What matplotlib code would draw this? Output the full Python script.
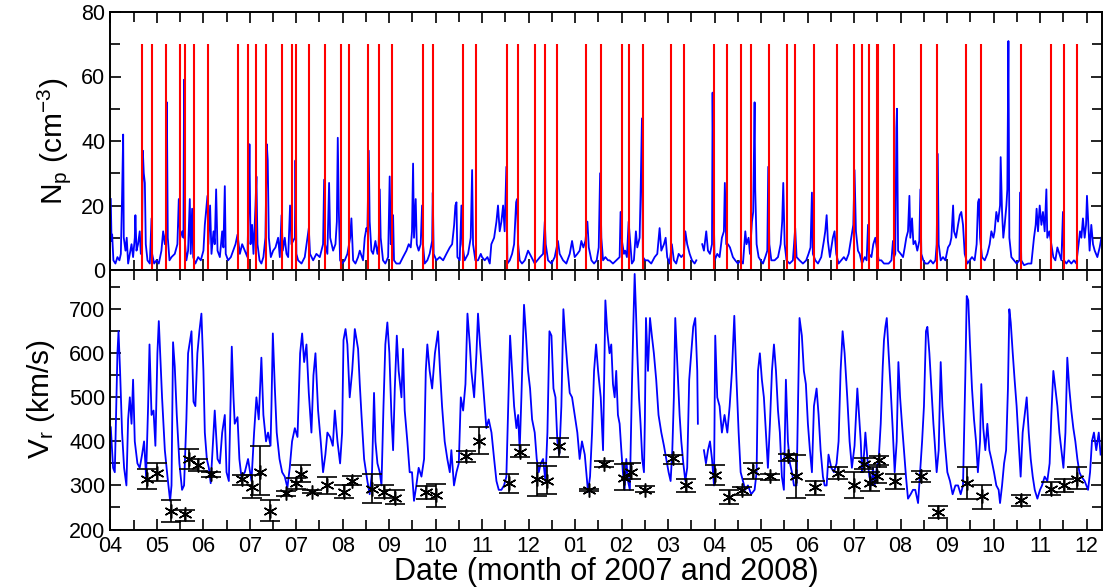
import numpy as np
import matplotlib
matplotlib.use("Agg")
import matplotlib.pyplot as plt
from matplotlib.ticker import MultipleLocator

plt.rcParams['font.family'] = ['Liberation Sans', 'DejaVu Sans']
plt.rcParams['mathtext.default'] = 'regular'

# x axis unit: days since the first (04) tick, one labelled tick every 30
month_labels = ['04', '05', '06', '07', '07', '08', '09', '10', '11', '12',
                '01', '02', '03', '04', '05', '06', '07', '08', '09', '10', '11', '12']

# proton density (cm^-3)
np_day = [0.3, 0.8, 1.2, 2.0, 3.3, 4.6, 5.9, 6.8, 7.6, 8.3, 8.7, 9.8, 10.6, 11.5, 12.6, 13.7, 14.7, 15.8, 16.2, 16.9,
          17.9, 19.0, 19.7, 20.5, 21.0, 21.6, 22.3, 22.9, 24.0, 25.5, 26.6, 27.0, 28.3, 29.8, 31.3, 33.0, 34.1, 35.2, 36.0, 36.5,
          37.1, 38.2, 39.5, 41.6, 43.3, 44.2, 45.1, 46.4, 47.2, 47.6, 48.1, 49.1, 50.2, 51.3, 51.9, 52.8, 53.5, 54.9, 56.7, 58.4,
          60.1, 61.0, 62.1, 62.7, 63.3, 64.4, 65.3, 66.6, 67.4, 68.3, 69.2, 70.7, 72.2, 73.0, 73.9, 74.5, 76.0, 77.8, 79.3, 80.8,
          82.1, 83.6, 85.1, 86.8, 88.5, 89.4, 89.8, 90.5, 91.5, 92.4, 93.7, 94.3, 95.0, 96.3, 97.5, 98.8, 100.1, 101.0, 101.6, 102.3,
          103.6, 105.1, 106.6, 108.3, 109.4, 110.5, 111.3, 112.6, 113.7, 114.8, 116.0, 116.9, 119.1, 119.5, 120.1, 121.2, 123.4, 125.5, 128.1, 128.9,
          130.9, 133.0, 135.2, 137.3, 138.0, 138.6, 140.1, 141.2, 141.9, 143.8, 145.3, 146.2, 146.8, 147.5, 148.3, 149.6, 151.3, 153.0, 154.8, 155.6,
          156.7, 158.2, 159.9, 161.0, 163.1, 164.2, 165.3, 165.9, 166.8, 167.4, 168.5, 169.6, 171.1, 172.4, 173.2, 173.9, 174.5, 176.0, 177.5, 179.3,
          180.3, 181.0, 181.8, 182.5, 183.1, 184.6, 186.8, 188.9, 191.1, 192.6, 193.9, 194.7, 195.4, 196.0, 197.1, 197.8, 199.0, 200.3, 201.2, 201.8,
          202.9, 204.6, 206.1, 207.7, 208.1, 208.7, 210.4, 212.6, 214.8, 216.9, 219.1, 220.6, 221.9, 222.7, 223.4, 224.0, 225.5, 226.6, 227.2, 228.7,
          230.9, 232.6, 233.5, 234.1, 235.6, 237.3, 239.1, 239.9, 241.6, 243.4, 244.9, 245.9, 247.7, 249.2, 250.2, 251.3, 252.4, 253.5, 254.5, 255.6,
          256.3, 257.8, 259.3, 260.6, 261.9, 262.5, 263.2, 264.2, 265.7, 267.5, 269.6, 271.8, 273.9, 275.6, 277.3, 279.3, 280.4, 281.0, 282.5, 284.7,
          286.8, 288.9, 290.0, 292.2, 294.3, 296.5, 298.0, 299.7, 301.4, 302.9, 304.0, 305.3, 306.6, 307.9, 308.8, 310.5, 312.2, 313.9, 315.2, 316.1,
          316.9, 318.0, 319.5, 321.2, 322.2, 324.4, 326.5, 328.7, 329.3, 330.2, 331.5, 332.3, 333.4, 334.5, 335.3, 336.6, 337.9, 339.2, 340.1, 341.6,
          342.2, 343.1, 343.7, 345.2, 347.0, 349.1, 351.3, 353.0, 354.5, 355.6, 357.3, 358.4, 359.4, 360.9, 362.4, 363.7, 365.2, 366.8, 368.5, 370.2,
          371.1, 372.3, 373.9, 375.4, 377.1, 378.2, 380.5, 382.0, 383.1, 384.6, 385.7, 387.0, 388.3, 388.7, 389.3, 390.0, 391.7, 393.2, 394.7, 396.0,
          396.6, 397.5, 398.6, 399.9, 401.8, 403.3, 405.0, 406.8, 408.3, 409.8, 410.6, 411.9, 412.8, 414.1, 414.9, 415.8, 416.2, 417.1, 418.4, 419.7,
          421.2, 422.7, 424.0, 424.6, 425.3, 426.6, 428.7, 430.9, 432.6, 433.6, 434.3, 435.2, 436.4, 438.4, 440.5, 442.0, 442.9, 444.8, 447.0, 449.1,
          450.6, 451.9, 452.8, 453.4, 455.0, 456.7, 458.8, 460.5, 461.4, 462.3, 463.1, 464.4, 466.3, 467.4, 468.5, 470.0, 471.7, 473.4, 474.9, 476.5,
          478.2, 479.5, 480.3, 481.2, 482.5, 483.6, 484.6, 485.1, 486.9, 488.1, 489.0, 489.6, 491.2, 492.4, 493.7, 494.6, 495.9, 497.6, 499.3, 500.8,
          502.3, 504.1, 505.1, 505.8, 506.6, 507.3, 507.7, 508.4, 510.1, 511.6, 512.7, 513.7, 514.8, 515.7, 516.3, 517.4, 518.3, 519.5, 520.8, 522.1,
          522.8, 523.4, 524.7, 526.0, 527.7, 529.4, 531.0, 532.5, 533.3, 534.0, 534.6, 535.9, 537.4, 538.9, 540.6, 541.9, 542.8, 543.9, 544.5, 545.8,
          547.1, 548.2, 549.2, 550.3, 551.4, 553.1, 554.6, 556.1, 557.8, 559.1, 560.0, 560.6, 561.3, 562.6, 564.3, 566.0, 567.5, 568.6, 569.9, 570.7,
          571.8, 572.9, 574.2, 574.6, 575.5, 576.3, 577.2, 578.3, 578.9, 579.6, 580.2, 581.5, 583.2, 584.9, 586.7, 587.1, 587.9, 589.7, 592.3, 594.4,
          596.1, 597.2, 597.8, 598.7, 599.8, 600.9, 601.9, 603.0, 604.1, 604.7, 606.0, 607.3, 608.6, 609.9, 611.2, 612.5, 613.8, 614.8, 615.5, 617.0,
          618.5, 620.2, 621.9, 623.4, 624.9, 625.8, 626.7, 627.7, 628.8, 629.7, 630.3, 631.0, 632.0, 633.1, 634.2, 635.3, 637.0, 638.5, 639.6]
np_val = [22, 9, 11, 3, 2, 4, 3, 5, 23, 42, 10, 6, 10, 2, 5, 8, 4, 10, 17, 6,
          8, 12, 5, 10, 37, 30, 27, 8, 3, 2, 16, 5, 2, 3, 2, 6, 12, 8, 12, 52,
          10, 3, 4, 5, 8, 22, 10, 12, 10, 59, 9, 3, 6, 22, 5, 19, 4, 2, 4, 3,
          6, 14, 20, 23, 8, 20, 5, 12, 8, 25, 6, 4, 12, 7, 26, 5, 3, 4, 6, 8,
          11, 5, 8, 6, 4, 24, 39, 8, 14, 5, 20, 29, 8, 3, 2, 4, 10, 39, 34, 10,
          4, 6, 7, 10, 4, 17, 6, 10, 5, 4, 20, 8, 10, 34, 5, 3, 2, 4, 13, 5,
          3, 5, 4, 8, 28, 8, 5, 27, 10, 6, 8, 15, 41, 18, 3, 2, 3, 5, 10, 16,
          3, 2, 4, 6, 3, 10, 13, 12, 37, 15, 6, 5, 9, 5, 8, 25, 10, 3, 2, 4,
          29, 8, 12, 17, 3, 2, 2, 4, 6, 8, 7, 12, 33, 10, 22, 8, 6, 8, 20, 8,
          2, 3, 5, 9, 24, 5, 3, 4, 3, 5, 7, 8, 14, 20, 21, 4, 3, 20, 8, 3,
          5, 10, 31, 8, 3, 3, 5, 4, 3, 4, 2, 8, 10, 15, 20, 12, 15, 20, 12, 32,
          2, 3, 5, 8, 21, 22, 8, 3, 2, 3, 6, 4, 2, 3, 4, 5, 15, 8, 3, 2,
          4, 9, 5, 3, 2, 5, 9, 4, 5, 6, 9, 7, 9, 15, 7, 3, 2, 3, 7, 30,
          10, 3, 4, 3, 3, 2, 3, 4, 18, 9, 5, 6, 4, 15, 10, 2, 3, 12, 7, 10,
          23, 47, 4, 3, 3, 2, 4, 5, 13, 6, 8, 10, 4, 2, 8, 3, 2, 5, 4, 5,
          12, 8, 5, 3, 2, 3, np.nan, 8, 6, 12, 6, 5, 8, 55, 20, 3, 5, 4, 10, 12,
          27, 8, 8, 7, 4, 3, 2, 3, 2, 12, 8, 10, 5, 15, 18, 52, 25, 8, 4, 3,
          2, 4, 6, 32, 8, 3, 3, 4, 8, 15, 27, 8, 3, 2, 3, 13, 4, 3, 2, 3,
          5, 7, 24, 5, 3, 2, 4, 9, 12, 17, 9, 4, 10, 12, 5, 2, 3, 4, 3, 5,
          10, 14, 31, 12, 6, 5, 3, 2, 4, 3, 14, 5, 4, 8, 10, 7, 3, 3, 2, 2,
          2, 3, 9, 4, 5, 44, 50, 6, 5, 4, 7, 10, 12, 23, 10, 16, 8, 9, 6, 9,
          25, 5, 3, 2, 2, 3, 2, 3, 8, 36, 8, 3, 4, 3, 7, 8, 10, 20, 12, 10,
          14, 17, 18, 14, 5, 2, 3, 4, 3, 8, 21, 22, 10, 4, 3, 5, 8, 12, 10, 12,
          18, 15, 20, 35, 18, 10, 14, 20, 25, 71, 10, 4, 3, 2, 3, 24, 3, 1.5, 2, 2,
          10, 14, 19, 12, 20, 14, 18, 12, 25, 10, 12, 8, 4, 3, 7, 5, 3, 18, 3, 2,
          3, 2, 3, 2, 8, 12, 10, 16, 10, 14, 23, 16, 6, 14, 8, 6, 4, 7, 10]

# radial solar wind speed (km/s)
vr_day = [0.3, 1.8, 2.9, 4.6, 5.3, 6.3, 7.6, 8.9, 10.4, 11.5, 12.6, 13.7, 14.7, 15.8, 17.5, 19.0, 20.5, 21.8, 23.1, 24.4,
          25.3, 26.6, 27.9, 29.1, 30.4, 31.3, 32.2, 33.4, 35.2, 36.9, 38.6, 39.5, 40.5, 41.6, 42.9, 44.6, 46.3, 47.6, 49.1, 50.2,
          51.5, 52.4, 53.7, 54.9, 56.2, 57.5, 58.8, 60.1, 61.0, 62.3, 63.6, 64.8, 67.4, 69.2, 70.7, 72.2, 73.9, 75.0, 76.5, 77.8,
          78.4, 79.5, 80.3, 82.1, 83.3, 84.6, 86.8, 88.9, 91.1, 92.8, 94.3, 95.8, 97.5, 98.8, 100.5, 101.8, 103.4, 104.0, 104.9, 106.2,
          107.4, 109.2, 110.9, 112.6, 114.3, 115.8, 117.3, 119.1, 120.8, 122.5, 123.8, 125.1, 126.6, 128.1, 129.8, 131.1, 132.4, 134.1, 135.8, 137.3,
          138.8, 140.1, 141.9, 143.6, 144.9, 146.6, 148.3, 149.6, 150.5, 151.8, 153.0, 154.5, 156.1, 157.8, 159.9, 161.0, 162.1, 163.8, 165.9, 167.4,
          168.9, 170.2, 171.1, 172.4, 173.9, 175.0, 176.3, 177.5, 178.8, 180.1, 181.4, 182.5, 183.6, 184.9, 186.1, 187.9, 188.9, 190.0, 191.7, 193.2,
          194.7, 196.0, 197.5, 199.0, 200.8, 202.5, 203.6, 204.6, 206.1, 207.7, 209.5, 211.5, 212.8, 214.1, 215.8, 217.5, 219.1, 220.1, 221.8, 223.4,
          224.9, 226.2, 227.7, 229.2, 230.5, 232.0, 233.0, 234.8, 236.3, 237.3, 238.6, 239.9, 241.2, 242.7, 244.2, 246.0, 247.7, 249.2, 250.7, 252.4,
          254.1, 255.6, 257.1, 258.0, 259.3, 260.6, 262.1, 263.2, 264.2, 265.3, 267.0, 268.3, 269.6, 270.9, 272.2, 273.9, 275.2, 276.5, 277.8, 279.3,
          280.8, 282.1, 283.4, 284.7, 286.0, 287.3, 288.5, 289.8, 291.1, 292.4, 293.7, 295.0, 296.5, 298.0, 299.7, 301.4, 302.9, 304.4, 306.2, 308.3,
          309.6, 310.9, 312.2, 313.5, 314.8, 316.5, 318.0, 319.5, 320.7, 322.2, 323.3, 324.4, 325.5, 326.5, 327.6, 328.7, 329.8, 330.8, 331.9, 333.0,
          334.1, 335.3, 336.6, 337.5, 338.4, 339.2, 340.1, 341.2, 342.2, 343.3, 344.4, 345.0, 345.7, 347.0, 348.3, 349.5, 350.8, 352.3, 353.8, 355.6,
          357.3, 358.8, 360.3, 361.6, 362.7, 363.7, 364.6, 365.9, 367.4, 368.5, 369.8, 371.1, 372.3, 373.6, 374.9, 376.2, 377.5, 378.8, 379.2, 380.5,
          383.1, 384.4, 385.7, 387.0, 388.3, 389.6, 390.4, 391.7, 393.2, 394.7, 396.4, 398.2, 399.7, 401.2, 402.7, 404.0, 405.5, 406.8, 408.3, 409.8,
          411.5, 413.6, 415.8, 417.1, 418.0, 419.2, 420.5, 421.8, 423.1, 424.4, 425.7, 427.0, 428.3, 429.6, 430.9, 432.1, 433.4, 434.7, 436.0, 437.3,
          438.6, 439.9, 441.2, 442.9, 443.8, 444.8, 446.3, 447.6, 448.9, 450.2, 451.5, 452.8, 454.1, 455.8, 457.1, 458.4, 459.9, 461.0, 462.3, 463.5,
          465.3, 467.0, 468.7, 470.0, 471.3, 472.6, 473.9, 475.6, 477.1, 478.6, 480.3, 482.1, 483.0, 484.3, 485.1, 486.4, 487.3, 488.6, 489.9, 491.2,
          492.2, 493.3, 494.6, 495.9, 497.2, 498.5, 499.3, 500.2, 501.1, 502.3, 503.6, 504.9, 506.2, 507.5, 508.6, 509.7, 510.9, 512.2, 513.5, 514.8,
          516.5, 518.0, 519.5, 521.3, 522.6, 523.9, 525.1, 526.4, 527.3, 528.6, 529.9, 531.2, 532.0, 533.3, 534.6, 535.9, 537.0, 538.5, 540.2, 541.9,
          543.6, 545.4, 547.1, 548.8, 550.3, 551.8, 552.7, 553.7, 554.8, 556.1, 557.4, 558.7, 559.9, 561.3, 562.1, 563.4, 564.7, 566.0, 567.3, 568.6,
          570.3, 571.8, 573.3, 574.2, 575.5, 576.8, 578.1, 579.3, 580.2, 581.1, 582.4, 583.6, 584.9, 586.2, 587.5, 588.8, 590.1, 591.4, 592.7, 594.0,
          595.3, 596.6, 598.3, 600.0, 601.3, 603.0, 604.7, 606.2, 607.3, 608.6, 609.9, 611.2, 612.5, 613.8, 615.1, 616.4, 617.6, 618.9, 620.2, 621.5,
          622.8, 624.1, 625.4, 626.7, 628.8, 631.0, 632.3, 633.5, 634.8, 636.3, 637.9, 639.1]
vr_val = [432, 340, 330, 600, 650, 560, 420, 340, 300, 450, 500, 440, 540, 400, 350, 340, 370, 400, 320, 480,
          620, 460, 470, 390, 600, 673, 600, 500, 380, 320, 265, 300, 625, 570, 460, 350, 290, 300, 450, 600,
          630, 650, 490, 480, 600, 650, 690, 560, 420, 360, 340, 305, 470, 360, 350, 420, 460, 330, 310, 520,
          615, 500, 440, 455, 360, 320, 330, 360, 310, 420, 500, 450, 590, 460, 400, 420, 390, 480, 645, 520,
          420, 360, 330, 320, 295, 340, 400, 430, 410, 600, 645, 580, 620, 510, 420, 550, 600, 470, 400, 330,
          370, 420, 410, 390, 470, 400, 350, 420, 630, 655, 620, 500, 560, 655, 610, 530, 460, 360, 310, 280,
          330, 510, 400, 350, 330, 300, 480, 620, 670, 600, 460, 380, 520, 640, 560, 500, 610, 470, 400, 330,
          330, 265, 300, 340, 320, 360, 560, 620, 560, 520, 600, 650, 560, 480, 400, 360, 330, 380, 300, 330,
          350, 500, 470, 530, 690, 620, 560, 500, 600, 690, 620, 560, 500, 430, 450, 420, 360, 310, 290, 290,
          300, 320, 520, 640, 560, 480, 430, 460, 380, 500, 710, 640, 560, 520, 450, 420, 360, 330, 350, 360,
          310, 420, 650, 640, 520, 500, 400, 370, 480, 700, 630, 570, 510, 500, 460, 420, 360, 400, 370, 285,
          320, 420, 560, 620, 560, 500, 380, 720, 650, 600, 620, 530, 500, 560, 460, 440, 380, 330, 290, 360,
          310, 290, 520, 660, 780, 700, 600, 500, 440, 360, 330, 450, 680, 560, 680, 640, 600, 540, 460, 420,
          390, 360, 330, 310, 380, 500, 680, 580, 460, 400, 350, 310, 340, 540, 600, 660, 680, 560, 440, np.nan,
          380, 350, 380, 400, 360, 300, 640, 500, 480, 420, 460, 420, 480, 560, 685, 550, 420, 330, 310, 290,
          300, 280, 290, 330, 560, 600, 540, 500, 420, 340, 440, 560, 620, 560, 470, 420, 320, 290, 540, 400,
          350, 330, 300, 300, 480, 680, 640, 560, 530, 440, 380, 330, 480, 520, 460, 380, 320, 300, 300, 370,
          340, 330, 350, 400, 560, 650, 600, 500, 400, 340, 390, 520, 470, 400, 330, 370, 420, 360, 320, 300,
          340, 300, 340, 360, 440, 570, 630, 660, 680, 600, 520, 430, 330, 400, 580, 500, 440, 380, 320, 270,
          280, 290, 290, 260, 330, 400, 480, 650, 660, 600, 520, 440, 400, 330, 380, 580, 480, 400, 330, 310,
          280, 300, 300, 280, 300, 550, 730, 720, 620, 520, 450, 400, 330, 400, 530, 430, 380, 440, 380, 360,
          330, 300, 290, 260, 300, 350, 380, 520, 700, 670, 600, 540, 480, 400, 320, 420, 460, 500, 420, 360,
          320, 290, 270, 290, 300, 320, 310, 350, 460, 560, 520, 480, 420, 380, 340, 420, 590, 520, 470, 430,
          400, 360, 330, 320, 310, 290, 330, 400, 420, 380, 420, 370]

# red vertical event lines (days)
red_day = [20.5, 27.0, 36.0, 45.0, 48.3, 54.1, 63.1, 82.5, 88.9, 94.1, 100.5, 110.8, 117.3, 119.9, 128.3,
           138.6, 148.9, 154.1, 166.3, 173.4, 181.8, 201.8, 208.3, 227.6, 236.0, 256.0, 263.1, 274.1, 280.5, 288.3,
           307.0, 316.7, 330.2, 334.7, 343.8, 361.8, 370.2, 389.6, 398.0, 407.0, 413.4, 425.1, 436.7, 441.8, 454.1,
           468.9, 479.9, 485.1, 489.6, 494.7, 495.4, 505.7, 523.1, 533.4, 552.2, 561.8, 587.6, 607.0, 615.4, 623.8]

# asterisk points with asymmetric error bars (km/s)
mk_day = [23.7, 30.2, 39.0, 48.1, 50.6, 56.6, 65.3, 84.7, 91.7, 96.5, 102.9, 113.7, 119.7, 122.9, 130.2,
          140.1, 150.5, 156.0, 168.9, 176.5, 184.0, 203.6, 210.2, 229.6, 238.2, 257.3, 264.7, 275.4, 281.8, 289.8,
          309.2, 318.6, 331.3, 335.8, 345.1, 363.1, 371.3, 390.5, 399.2, 407.4, 414.5, 425.9, 437.3, 442.7, 454.5,
          469.6, 479.9, 486.2, 490.0, 494.7, 495.8, 506.6, 523.4, 534.1, 553.1, 562.3, 587.9, 606.8, 615.2, 623.8]
mk_v = [315, 329, 243, 235, 359, 346, 327, 314, 296, 331, 243, 282, 306, 327, 286,
        300, 286, 311, 292, 286, 272, 284, 279, 366, 402, 305, 377, 314, 311, 389,
        289, 348, 317, 331, 290, 362, 300, 323, 274, 289, 332, 321, 366, 321, 296,
        329, 302, 349, 306, 321, 358, 309, 321, 239, 305, 275, 266, 293, 301, 315]
mk_lo = [293, 311, 218, 220, 338, 332, 319, 302, 272, 278, 220, 276, 292, 307, 282,
         280, 271, 300, 261, 272, 257, 270, 252, 354, 372, 282, 364, 275, 280, 364,
         287, 342, 289, 314, 284, 349, 286, 300, 259, 278, 314, 313, 356, 272, 278,
         315, 272, 337, 288, 305, 346, 292, 307, 226, 270, 247, 253, 278, 286, 292]
mk_hi = [338, 350, 268, 245, 383, 359, 331, 324, 323, 389, 266, 288, 317, 346, 289,
         319, 300, 321, 327, 301, 290, 298, 303, 379, 432, 325, 391, 352, 344, 408,
         291, 356, 349, 350, 298, 370, 314, 346, 290, 297, 350, 327, 371, 370, 311,
         342, 331, 362, 331, 342, 366, 327, 332, 253, 341, 302, 279, 307, 315, 341]

fig = plt.figure(figsize=(11.14, 5.88), dpi=100)
ax1 = fig.add_axes([110.3 / 1114, (588 - 270) / 588, 991.7 / 1114, 258 / 588])
ax2 = fig.add_axes([110.3 / 1114, (588 - 529.5) / 588, 991.7 / 1114, 259.5 / 588])

ax1.plot(np_day, np_val, color='#0000ff', lw=1.3, zorder=2)
ax1.vlines(red_day, 0, 70, colors='#ff0000', lw=1.5, zorder=3)

ax2.plot(vr_day, vr_val, color='#0000ff', lw=1.3, zorder=2)
mk_v = np.array(mk_v)
yerr = [mk_v - np.array(mk_lo), np.array(mk_hi) - mk_v]
ax2.errorbar(mk_day, mk_v, yerr=yerr, fmt='none', ecolor='k', elinewidth=1.2,
             capsize=7.5, capthick=1.2, zorder=4)
ax2.plot(mk_day, mk_v, ls='none', marker=(6, 2, 0), ms=10, mec='k', mew=1.1, zorder=5)

ax1.set_ylim(0, 80)
ax2.set_ylim(200, 789)
for ax in (ax1, ax2):
    ax.set_xlim(0, 640)
    ax.xaxis.set_major_locator(MultipleLocator(30))
    ax.xaxis.set_minor_locator(MultipleLocator(15))
    ax.tick_params(which='both', direction='in', top=True, right=True, width=1.2, labelsize=15.5)
    ax.tick_params(which='major', length=8)
    ax.tick_params(which='minor', length=7)
    for s in ax.spines.values():
        s.set_linewidth(1.4)

ax1.yaxis.set_major_locator(MultipleLocator(20))
ax1.yaxis.set_minor_locator(MultipleLocator(10))
ax2.yaxis.set_major_locator(MultipleLocator(100))
ax2.yaxis.set_minor_locator(MultipleLocator(50))
ax1.tick_params(labelbottom=False)
ax2.set_xticks(np.arange(0, 631, 30))
ax2.set_xticklabels(month_labels)
ax2.tick_params(axis='x', pad=5)

ax1.set_ylabel(r'N$_p$ (cm$^{-3}$)', fontsize=21.5)
ax1.yaxis.set_label_coords(-0.038, 0.5)
ax2.set_ylabel(r'V$_r$ (km/s)', fontsize=21.5)
ax2.yaxis.set_label_coords(-0.054, 0.5)
ax2.set_xlabel('Date (month of 2007 and 2008)', fontsize=22, labelpad=0)

fig.savefig('out.png', dpi=100)
